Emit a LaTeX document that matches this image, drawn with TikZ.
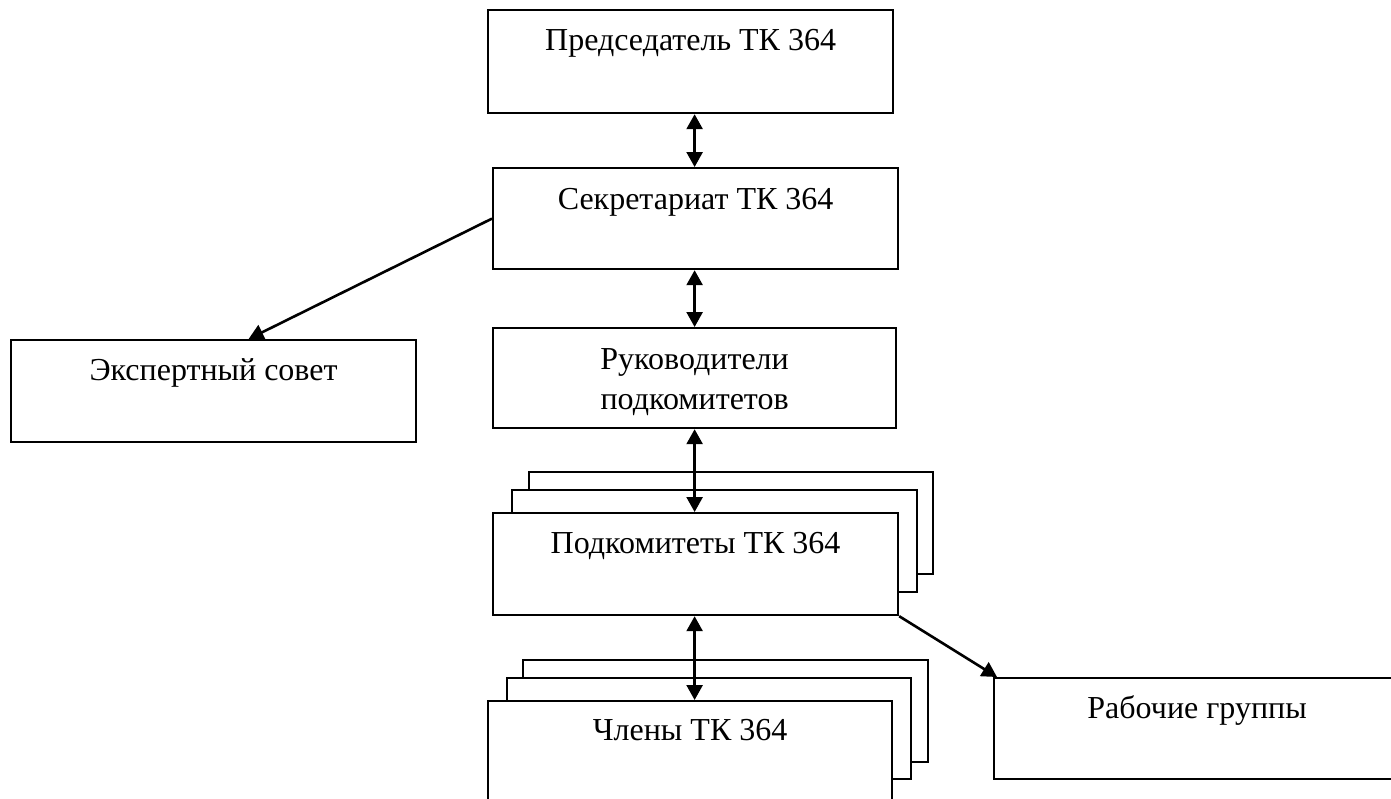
\documentclass[tikz,border=0pt]{standalone}
\usepackage{fontspec}
\setmainfont{Liberation Serif}
\usetikzlibrary{arrows.meta,calc}
\begin{document}
\begin{tikzpicture}[x=1pt,y=-1pt,
  box/.style={draw, line width=2.2pt, fill=white, inner sep=0pt, anchor=north west,
              minimum width=405pt, minimum height=102pt},
  txt/.style={font=\fontsize{32}{40}\selectfont, inner sep=0pt, anchor=base, align=center},
  link/.style={line width=2.6pt, -{Triangle[width=16pt,length=15pt]}},
  dbl/.style={line width=2.6pt, {Triangle[width=16pt,length=15pt]}-{Triangle[width=16pt,length=15pt]}}]
\clip (0,0) rectangle (1391,798);
\fill[white] (0,0) rectangle (1391,798);

% main column
\node[box, minimum height=103pt] (pred) at (487,9) {};
\node[txt] (predT) at ([yshift=-41pt]pred.north) {Председатель ТК 364};

\node[box, minimum height=101pt] (sekr) at (492,167) {};
\node[txt] (sekrT) at ([yshift=-42pt]sekr.north) {Секретариат ТК 364};

\node[box, minimum width=403pt, minimum height=100pt] (ruk) at (492,327) {};
\node[txt] (rukT) at ([yshift=-82pt]ruk.north) {Руководители\\подкомитетов};

\node[box] (expert) at (10,339) {};
\node[txt] (expertT) at ([yshift=-41pt]expert.north) {Экспертный совет};

% subcommittees stack
\node[box, minimum width=404pt] (podk3) at (528,471) {};
\node[box] (podk2) at (511,489) {};
\node[box] (podk) at (492,512) {};
\node[txt] (podkT) at ([yshift=-41pt]podk.north) {Подкомитеты ТК 364};

% members stack
\node[box] (chl3) at (522,659) {};
\node[box, minimum width=404pt, minimum height=101pt] (chl2) at (506,677) {};
\node[box, minimum width=404pt] (chl) at (487,700) {};
\node[txt] (chlT) at ([yshift=-40pt]chl.north) {Члены ТК 364};

% working groups
\node[box, minimum width=406pt, minimum height=101pt] (rab) at (993,677) {};
\node[txt] (rabT) at ([yshift=-41pt]rab.north) {Рабочие группы};

% connectors
\draw[dbl] (pred.south -| ruk.north) -- (sekr.north -| ruk.north);
\draw[dbl] (sekr.south -| ruk.north) -- (ruk.north);
\draw[dbl] (ruk.south) -- (podk.north -| ruk.south);
\draw[dbl] (podk.south -| ruk.south) -- (chl.north -| ruk.south);
\draw[link] (sekr.west) -- ([xshift=35pt]expert.north);
\draw[link] (podk.south east) -- ([xshift=4pt]rab.north west);
\end{tikzpicture}
\end{document}
